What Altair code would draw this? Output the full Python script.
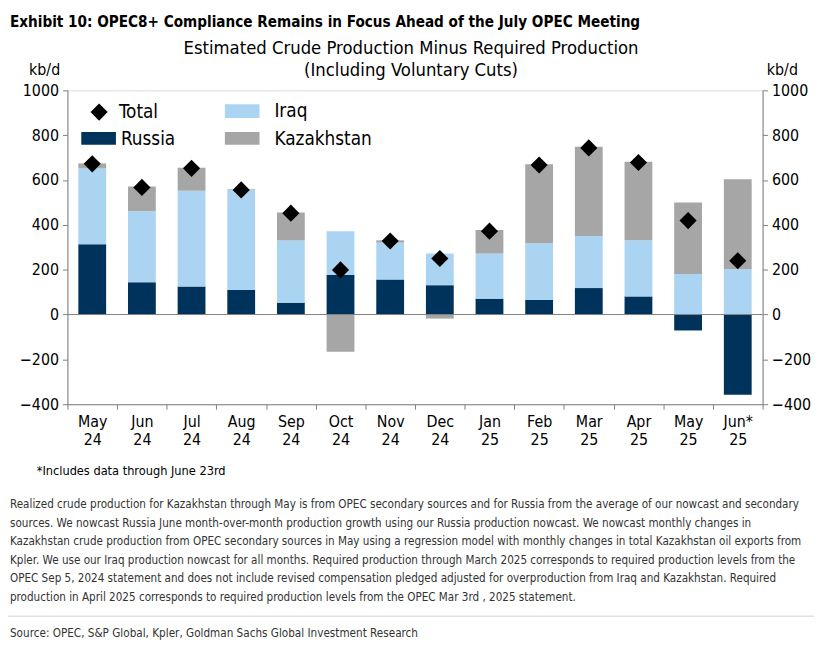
import altair as alt
import pandas as pd

months = ["May 24", "Jun 24", "Jul 24", "Aug 24", "Sep 24", "Oct 24", "Nov 24",
          "Dec 24", "Jan 25", "Feb 25", "Mar 25", "Apr 25", "May 25", "Jun* 25"]
russia = [313, 144, 125, 110, 53, 177, 156, 131, 71, 66, 118, 81, -71, -358]
iraq = [339, 317, 427, 446, 278, 195, 165, 141, 201, 252, 232, 250, 181, 202]
kazakhstan = [22, 110, 103, 3, 124, -166, 10, -18, 105, 352, 398, 350, 319, 401]
total = [672, 567, 652, 556, 452, 199, 328, 250, 372, 667, 743, 678, 419, 240]

countries = ["Russia", "Iraq", "Kazakhstan"]
colors = ["#00335c", "#abd4f2", "#a6a6a6"]
y_ticks = [-400, -200, 0, 200, 400, 600, 800, 1000]

title_text = "Exhibit 10: OPEC8+ Compliance Remains in Focus Ahead of the July OPEC Meeting"
sub1 = "Estimated Crude Production Minus Required Production"
sub2 = "(Including Voluntary Cuts)"
footnote = "*Includes data through June 23rd"
paragraph = [
    "Realized crude production for Kazakhstan through May is from OPEC secondary sources and for Russia from the average of our nowcast and secondary",
    "sources. We nowcast Russia June month-over-month production growth using our Russia production nowcast. We nowcast monthly changes in",
    "Kazakhstan crude production from OPEC secondary sources in May using a regression model with monthly changes in total Kazakhstan oil exports from",
    "Kpler. We use our Iraq production nowcast for all months. Required production through March 2025 corresponds to required production levels from the",
    "OPEC Sep 5, 2024 statement and does not include revised compensation pledged adjusted for overproduction from Iraq and Kazakhstan. Required",
    "production in April 2025 corresponds to required production levels from the OPEC Mar 3rd , 2025 statement.",
]
source = "Source: OPEC, S&P Global, Kpler, Goldman Sachs Global Investment Research"

FONT = "DejaVu Sans Condensed, Liberation Sans, sans-serif"

rows = []
for i, m in enumerate(months):
    for j, (c, vals) in enumerate(zip(countries, [russia, iraq, kazakhstan])):
        rows.append({"month": m, "country": c, "value": vals[i], "ord": j})
bars_df = pd.DataFrame(rows)
tot_df = pd.DataFrame({"month": months, "total": total})
one = pd.DataFrame({"a": [0]})

x_enc = alt.X("month:N", sort=months, title=None,
              scale=alt.Scale(paddingInner=0, paddingOuter=0),
              axis=alt.Axis(labelAngle=0, labelExpr="split(datum.label, ' ')",
                            labelFontSize=16, labelLineHeight=19, labelPadding=4,
                            labelColor="#000000", tickBand="extent", tickSize=5,
                            tickColor="#7f7f7f", domainColor="#7f7f7f", labelFont=FONT))

y_scale = alt.Scale(domain=[-400, 1000], nice=False, zero=False)


def y_axis(orient):
    return alt.Axis(orient=orient, values=y_ticks, grid=False, tickSize=5, format="d",
                    labelFontSize=16, labelPadding=4, labelColor="#000000",
                    tickColor="#7f7f7f", domainColor="#7f7f7f", labelFont=FONT,
                    labelFlush=False)


bars = alt.Chart(bars_df).mark_bar(width=alt.RelativeBandSize(0.56)).encode(
    x=x_enc,
    y=alt.Y("value:Q", stack="zero", scale=y_scale, title=None, axis=y_axis("left")),
    color=alt.Color("country:N", scale=alt.Scale(domain=countries, range=colors), legend=None),
    order=alt.Order("ord:Q"),
)

zero = alt.Chart(one).mark_rule(color="#7f7f7f", strokeWidth=1).encode(
    y=alt.YDatum(0, axis=None)
)

diamonds = alt.Chart(tot_df).mark_point(shape="diamond", filled=True, color="#000000",
                                        size=300, opacity=1).encode(
    x=x_enc,
    y=alt.Y("total:Q", scale=y_scale, title=None, axis=y_axis("right")),
)


def txt(s, x, y, size=16, align="left", weight="normal", baseline="middle",
        color="#000000", **kw):
    return alt.Chart(one).mark_text(align=align, baseline=baseline, fontSize=size,
                                    fontWeight=weight, font=FONT, color=color, **kw).encode(
        x=alt.value(x), y=alt.value(y), text=alt.value(s))


texts = [
    txt(title_text, -58, -69, size=15.3, weight="bold"),
    txt(sub1, 347, -43, size=18.5, align="center"),
    txt(sub2, 347, -20, size=18.5, align="center"),
    txt("kb/d", -23, -20, size=16, align="center"),
    txt("kb/d", 722, -20, size=16, align="center"),
    txt("Total", 52, 22, size=19),
    txt("Russia", 54, 49, size=19),
    txt("Iraq", 209, 21, size=19),
    txt("Kazakhstan", 209, 49, size=19),
    txt(footnote, -31, 384, size=12.8),
    txt(paragraph, -58, 422, size=11.7, baseline="alphabetic", lineHeight=18.7,
        color="#333333"),
    txt(source, -58, 548, size=11.75, color="#333333"),
]

sep = alt.Chart(one).mark_rule(color="#d0d0d0", strokeWidth=1).encode(
    x=alt.value(-60), x2=alt.value(754), y=alt.value(531))

leg_diamond = alt.Chart(one).mark_point(shape="diamond", filled=True, color="#000000",
                                        size=300, opacity=1).encode(
    x=alt.value(32), y=alt.value(22))
leg_russia = alt.Chart(one).mark_rect(color=colors[0]).encode(
    x=alt.value(14), x2=alt.value(49), y=alt.value(42), y2=alt.value(55))
leg_iraq = alt.Chart(one).mark_rect(color=colors[1]).encode(
    x=alt.value(159), x2=alt.value(194), y=alt.value(14), y2=alt.value(28))
leg_kaz = alt.Chart(one).mark_rect(color=colors[2]).encode(
    x=alt.value(159), x2=alt.value(194), y=alt.value(42), y2=alt.value(55))

chart = alt.layer(
    bars, zero, diamonds, leg_diamond, leg_russia, leg_iraq, leg_kaz, sep, *texts
).resolve_axis(y="independent").properties(
    width=702, height=317,
    autosize=alt.AutoSizeParams(type="none"),
    padding={"left": 60, "top": 80, "right": 60, "bottom": 240},
).configure_view(stroke=None).configure(background="#ffffff")

chart.save("out.html", embed_options={"renderer": "svg", "actions": False})
